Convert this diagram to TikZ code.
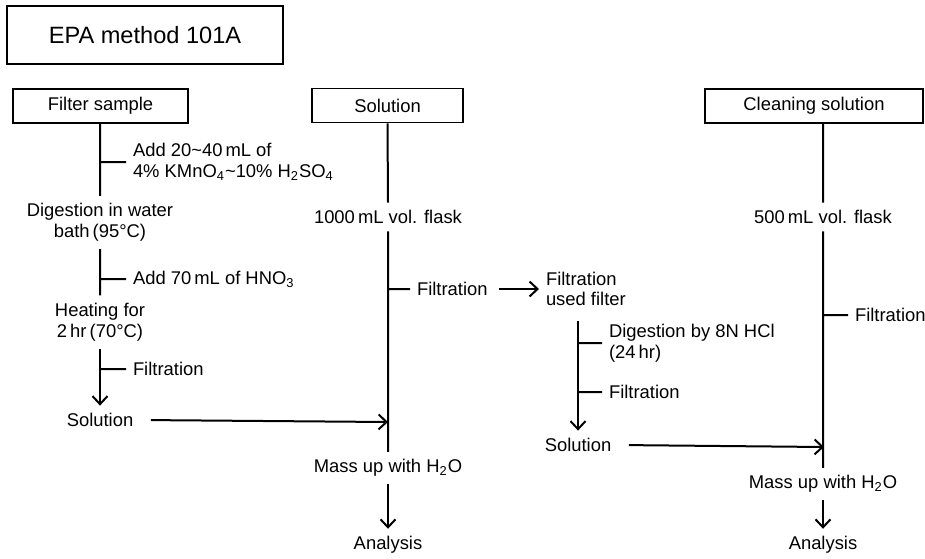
\documentclass[tikz,border=0pt]{standalone}
\usepackage{fontspec}
\setmainfont{Liberation Sans}
\usetikzlibrary{
    arrows.meta,
    calc,
    positioning
}

\begin{document}
\begin{tikzpicture}[x=0.5pt, y=-0.5pt, line width=1pt,
    >={Straight Barb[length=4pt,width=7.5pt]},
    every node/.style={font=\fontsize{9.2}{10.3}\selectfont},
    box/.style={draw, line width=0.8pt, minimum height=17pt, inner sep=0pt},
    txt/.style={align=center},
    lbl/.style={anchor=west, align=left, inner sep=3pt}]
    \useasboundingbox (0,0) rectangle (925,558);

    \node[box, minimum width=138pt, minimum height=29pt, font=\fontsize{11.8}{14}\selectfont] (epa) at (145,35) {EPA method 101A};

    % left column
    \node[box, minimum width=87.5pt] (fs) at (100.5,106) {Filter sample};
    \node[txt] (dig) at (100,222.5) {Digestion in water\\bath\,(95°C)};
    \node[txt] (heat) at (100,322) {Heating for\\2\,hr\,(70°C)};
    \node[txt] (s1) at (100,420) {Solution};
    \node[lbl] (add1) at (126,162) {Add 20\textasciitilde40\,mL of\\4\% KMnO\textsubscript{4}\textasciitilde10\% H\textsubscript{2}SO\textsubscript{4}};
    \node[lbl] (add2) at (126,279) {Add 70\,mL of HNO\textsubscript{3}};
    \node[lbl] (fa) at (126,369) {Filtration};

    % middle column
    \node[box, minimum width=75.5pt] (sol) at (387.5,105.5) {Solution};
    \node[txt] (fl1) at (388,217) {1000\,mL vol. flask};
    \node[lbl] (fb) at (410,289) {Filtration};
    \node[lbl] (used) at (539,289) {Filtration\\used filter};
    \node[txt] (m1) at (388,468) {Mass up with H\textsubscript{2}O};
    \node[txt] (a1) at (388,545) {Analysis};
    \coordinate (j1) at (388,422);

    % used filter
    \node[lbl] (hcl) at (602,343) {Digestion by 8N HCl\\(24\,hr)};
    \node[lbl] (fc) at (602,392) {Filtration};
    \node[txt] (s3) at (578,445) {Solution};
    \coordinate (j2) at (824,447);

    % right column
    \node[box, minimum width=109pt] (cl) at (814,106) {Cleaning solution};
    \node[txt] (fl2) at (823,217) {500\,mL vol. flask};
    \node[lbl] (fd) at (848,315) {Filtration};
    \node[txt] (m2) at (823,484) {Mass up with H\textsubscript{2}O};
    \node[txt] (a2) at (823,545) {Analysis};

    \draw
    (fs.south -| dig.north) -- (dig.north)
    (dig.north |- add1.west) -- (add1.west)
    (dig.south) -- (heat.north)
    (dig.south |- add2.west) -- (add2.west)
    (heat.south) edge[->] (s1.north)
    (heat.south |- fa.west) -- (fa.west)
    (s1.east) edge[->, shorten <=5pt] (j1)
    (sol.south) -- (fl1.north)
    (fl1.south) -- (m1.north)
    (fl1.south |- fb.west) -- (fb.west)
    (fb.east) edge[->, shorten <=2pt] (used.west)
    (m1.south) edge[->] (a1.north)
    (used.south -| s3.north) edge[->, shorten <=4pt] (s3.north)
    (s3.north |- hcl.west) -- (hcl.west)
    (s3.north |- fc.west) -- (fc.west)
    (s3.east) edge[->, shorten <=5pt] (j2)
    (cl.south -| fl2.north) -- (fl2.north)
    (fl2.south) -- (m2.north)
    (fl2.south |- fd.west) -- (fd.west)
    (m2.south) edge[->] (a2.north);
\end{tikzpicture}
\end{document}
